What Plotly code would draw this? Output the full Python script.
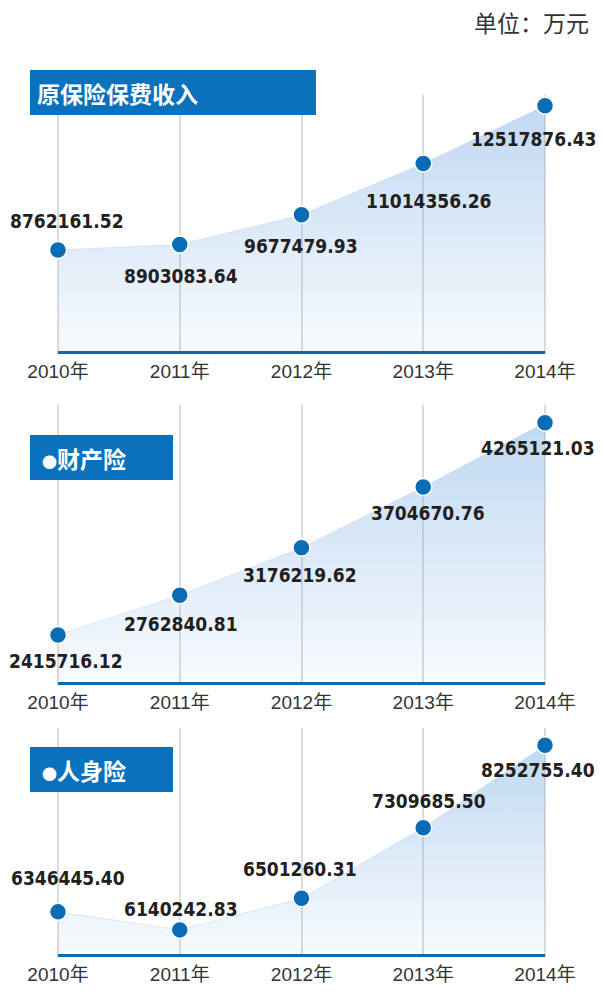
import plotly.graph_objects as go

W, H = 603, 995

years = [2010, 2011, 2012, 2013, 2014]
year_labels = ["2010年", "2011年", "2012年", "2013年", "2014年"]

titles = ["原保险保费收入", "财产险", "人身险"]
unit_text = "单位：万元"

total_premium = [8762161.52, 8903083.64, 9677479.93, 11014356.26, 12517876.43]
property_ins = [2415716.12, 2762840.81, 3176219.62, 3704670.76, 4265121.03]
life_ins = [6346445.40, 6140242.83, 6501260.31, 7309685.50, 8252755.40]

series = [total_premium, property_ins, life_ins]

# layout (pixels): plot top, plot bottom (baseline centre), y range
panels = [
    dict(top=95, bottom=354, yr=[6.05e6, 12.80e6], box=(30, 70, 316, 115), bullet=False),
    dict(top=405, bottom=685, yr=[1.98e6, 4.42e6], box=(30, 435, 173, 480), bullet=True),
    dict(top=728, bottom=957, yr=[5.83e6, 8.45e6], box=(30, 747, 173, 792), bullet=True),
]
# label offsets (xshift, yshift) in px
offsets = [
    [(9, 29), (1, -31), (-1, -31), (5, -37), (-12, -33)],
    [(8, -26), (1, -29), (-2, -27), (5, -26), (-7, -25)],
    [(10, 34), (1, 21), (-2, 29), (6, 27), (-7, -25)],
]

BLUE = "#0b6cb6"
BOX = "#0a72bc"

px_per_year = (545 - 58) / 4.0
xr = [years[0] - 58 / px_per_year, years[-1] + (W - 545) / px_per_year]


def ydom(top, bottom):
    return [1 - bottom / H, 1 - top / H]


def px(x):
    return x / W


def py(y):
    return 1 - y / H


fig = go.Figure()
shapes = []
annotations = []

for i, (vals, p) in enumerate(zip(series, panels)):
    n = "" if i == 0 else str(i + 1)
    xa, ya = "x" + n, "y" + n
    fig.add_trace(go.Scatter(
        x=years, y=vals, xaxis=xa, yaxis=ya, mode="lines",
        line=dict(width=0.5, color="rgba(140,185,230,0.5)"),
        fill="tozeroy",
        fillgradient=dict(type="vertical", start=p["yr"][0], stop=max(vals),
                          colorscale=[[0, "rgba(122,175,228,0.05)"],
                                      [1, "rgba(122,175,228,0.48)"]]),
        hoverinfo="skip", showlegend=False,
    ))
    fig.add_trace(go.Scatter(
        x=years, y=vals, xaxis=xa, yaxis=ya, mode="markers",
        marker=dict(size=17, color=BLUE, line=dict(width=1.5, color="white")),
        showlegend=False,
    ))
    fig.layout["xaxis" + n] = dict(
        domain=[0, 1], range=xr, anchor=ya, tickvals=years, ticktext=year_labels,
        showgrid=True, gridcolor="#dcdcdc", gridwidth=2, zeroline=False,
        showline=False, ticks="", ticklabelstandoff=4,
        tickfont=dict(family="Liberation Sans, Noto Sans CJK SC", size=19, color="#333333"),
        fixedrange=True,
    )
    fig.layout["yaxis" + n] = dict(
        domain=ydom(p["top"], p["bottom"]), range=p["yr"], anchor=xa,
        showgrid=False, showticklabels=False, zeroline=False, showline=False,
        fixedrange=True,
    )
    # baseline
    shapes.append(dict(type="line", xref=xa, yref=ya, x0=years[0], x1=years[-1],
                       y0=p["yr"][0], y1=p["yr"][0], line=dict(color=BLUE, width=6)))
    # title box
    x0, y0, x1, y1 = p["box"]
    shapes.append(dict(type="rect", xref="paper", yref="paper", x0=px(x0), x1=px(x1),
                       y0=py(y1), y1=py(y0), fillcolor=BOX, line=dict(width=0)))
    if p["bullet"]:
        txt = "<span style='font-size:15px'>●</span>" + titles[i]
        tx = 40
    else:
        txt = titles[i]
        tx = 35
    annotations.append(dict(
        text="<b>" + txt + "</b>", xref="paper", yref="paper", x=px(tx), y=py((y0 + y1) / 2),
        xanchor="left", yanchor="middle", showarrow=False,
        font=dict(family="Noto Sans CJK SC", size=23, color="white"),
    ))
    # value labels
    for j, v in enumerate(vals):
        dx, dy = offsets[i][j]
        annotations.append(dict(
            text="<b>%.2f</b>" % v, x=years[j], y=v, xref=xa, yref=ya,
            xshift=dx, yshift=dy, showarrow=False, xanchor="center", yanchor="middle",
            font=dict(family="DejaVu Sans Condensed, Roboto", size=19, color="#231f20"),
        ))

annotations.append(dict(
    text=unit_text, xref="paper", yref="paper", x=px(591), y=py(22),
    xanchor="right", yanchor="middle", showarrow=False,
    font=dict(family="Noto Sans CJK SC", size=23, color="#333333"),
))

fig.update_layout(
    width=W, height=H, margin=dict(l=0, r=0, t=0, b=0),
    paper_bgcolor="white", plot_bgcolor="rgba(0,0,0,0)",
    shapes=shapes, annotations=annotations, showlegend=False,
)

fig.write_html("out.html", config={"displayModeBar": False},
               post_script="document.body.style.margin='0';")
